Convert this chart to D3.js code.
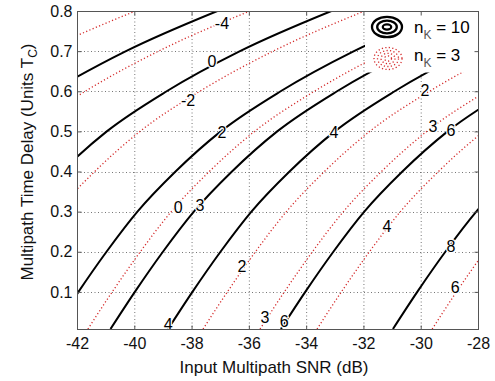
<!DOCTYPE html>
<html lang="en">
<head>
<meta charset="UTF-8">
<script src="https://cdn.jsdelivr.net/npm/d3@7"></script>
<style>
  html,body{margin:0;background:#fff;}
  svg text{font-family:"Liberation Sans",Arial,Helvetica,sans-serif;}
</style>
</head>
<body>
<svg id="chart" width="495" height="381"></svg>
<script>
var delay = [0.0075, 0.1, 0.2, 0.3, 0.4, 0.5, 0.6, 0.7, 0.8];

// n_K = 10 contours (solid black), input SNR in dB at each delay
var levelsK10 = [-2, 0, 2, 3, 4, 6, 8];
var snrK10 = [
  [-50.76,-49.91,-48.93,-47.85,-46.52,-44.94,-42.85,-40.29,-37.10],
  [-46.78,-45.93,-44.95,-43.87,-42.54,-40.96,-38.87,-36.31,-33.12],
  [-42.80,-41.95,-40.97,-39.89,-38.56,-36.98,-34.89,-32.33,-29.14],
  [-40.83,-39.98,-39.00,-37.92,-36.59,-35.01,-32.92,-30.36,-27.17],
  [-38.82,-37.97,-36.99,-35.91,-34.58,-33.00,-30.91,-28.35,-25.16],
  [-34.88,-34.03,-33.05,-31.97,-30.64,-29.06,-26.97,-24.41,-21.22],
  [-30.97,-30.12,-29.14,-28.06,-26.73,-25.15,-23.06,-20.50,-17.31]
];

// n_K = 3 contours (red dotted)
var levelsK3 = [-6, -4, -2, 0, 2, 3, 4, 6];
var snrK3 = [
  [-53.62,-52.77,-51.79,-50.71,-49.38,-47.80,-45.71,-43.15,-39.96],
  [-49.62,-48.77,-47.79,-46.71,-45.38,-43.80,-41.71,-39.15,-35.96],
  [-45.62,-44.77,-43.79,-42.71,-41.38,-39.80,-37.71,-35.15,-31.96],
  [-41.62,-40.77,-39.79,-38.71,-37.38,-35.80,-33.71,-31.15,-27.96],
  [-37.60,-36.75,-35.77,-34.69,-33.36,-31.78,-29.69,-27.13,-23.94],
  [-35.61,-34.76,-33.78,-32.70,-31.37,-29.79,-27.70,-25.14,-21.95],
  [-33.62,-32.77,-31.79,-30.71,-29.38,-27.80,-25.71,-23.15,-19.96],
  [-29.60,-28.75,-27.77,-26.69,-25.36,-23.78,-21.69,-19.13,-15.94]
];

// contour labels [text, snr, delay]
var labelsK10 = [
  ["-2",-37.25,0.817], ["0",-37.29,0.673], ["2",-36.94,0.498], ["3",-37.71,0.316],
  ["4",-38.82,0.018], ["4",-33.03,0.498], ["6",-34.77,0.025], ["6",-28.94,0.501],
  ["8",-28.94,0.212]
];
var labelsK3 = [
  ["-4",-36.94,0.770], ["-2",-38.12,0.578], ["0",-38.47,0.311], ["2",-36.24,0.164],
  ["3",-35.44,0.037], ["2",-29.85,0.603], ["3",-29.57,0.511], ["4",-31.18,0.262],
  ["6",-28.80,0.110]
];

var xTicks = [-42,-40,-38,-36,-34,-32,-30,-28];
var xTickLabels = ["-42","-40","-38","-36","-34","-32","-30","-28"];
var yTicks = [0.1,0.2,0.3,0.4,0.5,0.6,0.7,0.8];
var yTickLabels = ["0.1","0.2","0.3","0.4","0.5","0.6","0.7","0.8"];

var svg = d3.select("#chart");
var x = d3.scaleLinear().domain([-42,-28]).range([77,478]);
var y = d3.scaleLinear().domain([0.0075,0.8]).range([329,11]);
var x0 = x.range()[0], x1 = x.range()[1], y0 = y.range()[1], y1 = y.range()[0];

svg.append("defs").append("clipPath").attr("id","plot")
  .append("rect").attr("x",x0).attr("y",y0).attr("width",x1-x0).attr("height",y1-y0);

// grid
var grid = svg.append("g").attr("stroke","#666").attr("stroke-width",0.9).attr("stroke-dasharray","1,2.5");
grid.selectAll(".gx").data(xTicks.slice(1,-1)).enter().append("line")
  .attr("x1",d=>x(d)+0.5).attr("x2",d=>x(d)+0.5).attr("y1",y0).attr("y2",y1);
grid.selectAll(".gy").data(yTicks.slice(0,-1)).enter().append("line")
  .attr("y1",d=>Math.round(y(d))+0.5).attr("y2",d=>Math.round(y(d))+0.5).attr("x1",x0).attr("x2",x1);

var line = d3.line()
  .x(d=>x(d[0])).y(d=>y(d[1]))
  .curve(d3.curveMonotoneX);

var plot = svg.append("g").attr("clip-path","url(#plot)");

plot.selectAll(".k3").data(snrK3).enter().append("path")
  .attr("d",s=>line(s.map((v,i)=>[v,delay[i]])))
  .attr("fill","none").attr("stroke","#d42a2a").attr("stroke-width",1.3)
  .attr("stroke-dasharray","1.2,2.3");

plot.selectAll(".k10").data(snrK10).enter().append("path")
  .attr("d",s=>line(s.map((v,i)=>[v,delay[i]])))
  .attr("fill","none").attr("stroke","#000").attr("stroke-width",2);

plot.selectAll(".lab").data(labelsK10.concat(labelsK3)).enter().append("text")
  .attr("x",d=>x(d[1])).attr("y",d=>y(d[2]))
  .attr("text-anchor","middle").attr("dominant-baseline","central")
  .attr("font-size",16).attr("fill","#000")
  .attr("stroke","#fff").attr("stroke-width",2.5).attr("paint-order","stroke")
  .text(d=>d[0]);

// legend (covers lines beneath it)
var leg = svg.append("g");
leg.append("rect").attr("x",365).attr("y",y0+0.5).attr("width",x1-365).attr("height",61).attr("fill","#fff");
[[15,10.2],[9.8,6.3],[4.2,2.6]].forEach(function(r){
  leg.append("ellipse").attr("cx",387).attr("cy",27).attr("rx",r[0]).attr("ry",r[1])
    .attr("fill","none").attr("stroke","#000").attr("stroke-width",2.3);
});
[[14,11],[10.5,8],[7,5.2],[3.5,2.6]].forEach(function(r){
  leg.append("ellipse").attr("cx",388).attr("cy",58.5).attr("rx",r[0]).attr("ry",r[1])
    .attr("fill","none").attr("stroke","#d42a2a").attr("stroke-width",1.3)
    .attr("stroke-dasharray","1.2,2.3");
});
var lt1 = leg.append("text").attr("x",414).attr("y",33).attr("font-size",17);
lt1.append("tspan").text("n");
lt1.append("tspan").attr("dy",6).attr("font-size",12).attr("fill","#555").text("K");
lt1.append("tspan").attr("dy",-6).text(" = 10");
var lt2 = leg.append("text").attr("x",414).attr("y",61).attr("font-size",17);
lt2.append("tspan").text("n");
lt2.append("tspan").attr("dy",6).attr("font-size",12).attr("fill","#555").text("K");
lt2.append("tspan").attr("dy",-6).text(" = 3");

// axes box and inward ticks
svg.append("rect").attr("x",x0+0.5).attr("y",y0+0.5).attr("width",x1-x0).attr("height",y1-y0)
  .attr("fill","none").attr("stroke","#555").attr("stroke-width",1);

var ax = svg.append("g").attr("transform","translate(0,"+(y1+0.5)+")")
  .call(d3.axisBottom(x).tickValues(xTicks).tickSize(-4).tickPadding(8)
    .tickFormat((d,i)=>xTickLabels[i]));
var ay = svg.append("g").attr("transform","translate("+(x0+0.5)+",0)")
  .call(d3.axisLeft(y).tickValues(yTicks).tickSize(-4).tickPadding(5)
    .tickFormat((d,i)=>yTickLabels[i]));
svg.append("g").attr("transform","translate(0,"+(y0+0.5)+")")
  .call(d3.axisTop(x).tickValues(xTicks).tickSize(-4).tickFormat(""));
svg.append("g").attr("transform","translate("+(x1+0.5)+",0)")
  .call(d3.axisRight(y).tickValues(yTicks).tickSize(-4).tickFormat(""));
svg.selectAll(".domain").remove();
svg.selectAll(".tick line").attr("stroke","#555");
svg.selectAll(".tick text").attr("font-size",16).attr("fill","#111")
  .style("font-family","'Liberation Sans',Arial,sans-serif");

// axis titles
svg.append("text").attr("x",274).attr("y",373).attr("text-anchor","middle")
  .attr("font-size",17).attr("fill","#111").text("Input Multipath SNR  (dB)");
var yl = svg.append("text").attr("transform","translate(33,162) rotate(-90)")
  .attr("text-anchor","middle").attr("font-size",17).attr("fill","#111");
yl.append("tspan").text("Multipath Time Delay (Units T");
yl.append("tspan").attr("dy",4).attr("font-size",12).text("C");
yl.append("tspan").attr("dy",-4).text(")");
</script>
</body>
</html>
